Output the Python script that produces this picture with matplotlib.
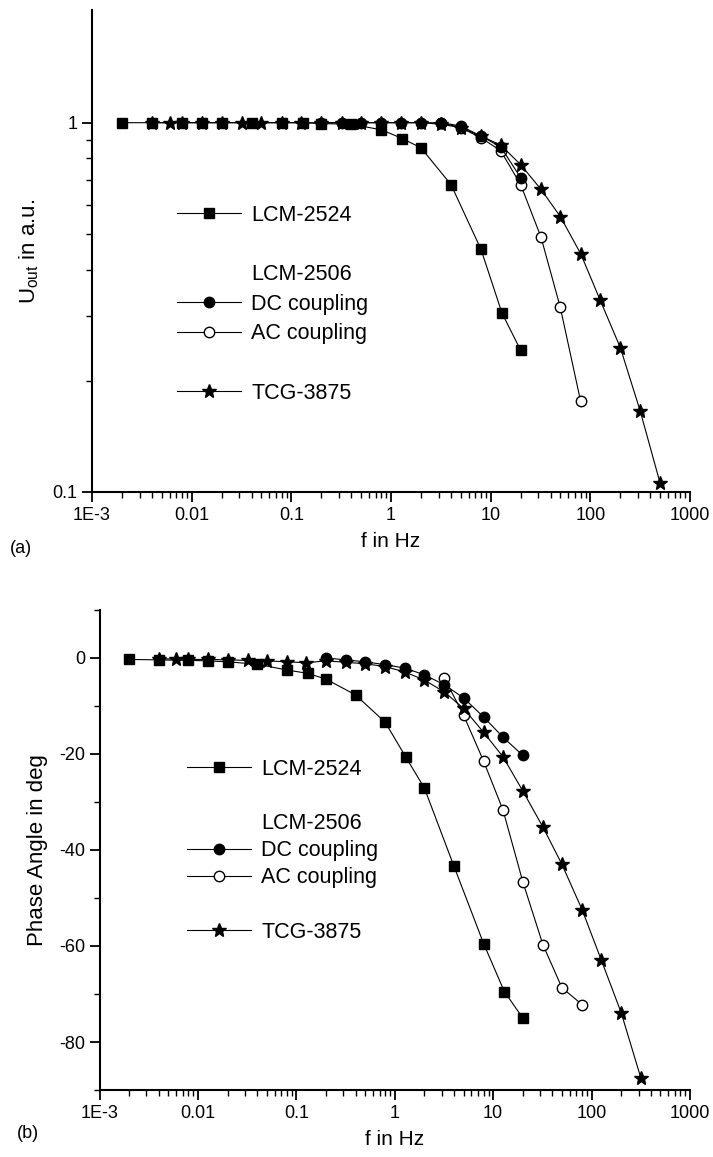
import matplotlib
matplotlib.use('Agg')
import matplotlib.pyplot as plt
from matplotlib.lines import Line2D
from matplotlib.ticker import LogLocator, FixedLocator, NullFormatter, MultipleLocator

plt.rcParams['font.family'] = ['Liberation Sans', 'DejaVu Sans']
plt.rcParams['mathtext.default'] = 'regular'
plt.rcParams['axes.unicode_minus'] = False

# LCM-2524 (squares)
f_sq = [0.002, 0.004, 0.008, 0.0126, 0.02, 0.04, 0.08, 0.13, 0.2, 0.4, 0.8, 1.3, 2, 4, 8, 13, 20]
u_sq = [1.0, 1.0, 1.0, 1.0, 1.0, 1.0, 1.0, 1.0, 0.995, 0.99, 0.957, 0.906, 0.855, 0.68, 0.454, 0.305, 0.242]
p_sq = [-0.3, -0.4, -0.5, -0.6, -0.8, -1.3, -2.5, -3.2, -4.4, -7.7, -13.4, -20.7, -27.1, -43.4, -59.5, -69.5, -75.0]

# LCM-2506 DC coupling (filled circles)
f_dc = [0.2, 0.32, 0.5, 0.8, 1.26, 2, 3.2, 5, 8, 12.6, 20]
u_dc = [1.0, 1.0, 1.0, 1.0, 1.0, 1.0, 1.0, 0.98, 0.92, 0.86, 0.71]
p_dc = [0.0, -0.4, -0.8, -1.4, -2.1, -3.5, -5.6, -8.3, -12.3, -16.5, -20.3]

# LCM-2506 AC coupling (open circles)
f_ac = [3.2, 5, 8, 12.6, 20, 32, 50, 80]
u_ac = [1.0, 0.97, 0.91, 0.84, 0.68, 0.49, 0.316, 0.176]
p_ac = [-4.2, -11.9, -21.5, -31.7, -46.6, -59.7, -68.7, -72.2]

# TCG-3875 (stars)
f_st = [0.004, 0.006, 0.008, 0.0126, 0.02, 0.032, 0.05, 0.08, 0.126, 0.2, 0.32, 0.5, 0.8, 1.26,
        2, 3.2, 5, 8, 12.6, 20, 32, 50, 80, 126, 200, 316, 500]
u_st = [1.0, 1.0, 1.0, 1.0, 1.0, 1.0, 1.0, 1.0, 1.0, 1.0, 1.0, 1.0, 1.0, 1.0,
        1.0, 0.99, 0.97, 0.92, 0.87, 0.77, 0.66, 0.557, 0.442, 0.33, 0.246, 0.166, 0.106]
f_st_p = f_st[:-1]
p_st = [-0.2, -0.2, -0.3, -0.3, -0.4, -0.5, -0.6, -0.8, -1.0, -0.6, -0.9, -1.2, -1.8, -2.9,
        -4.6, -7.1, -10.5, -15.5, -20.6, -27.7, -35.2, -43.0, -52.4, -63.0, -73.9, -87.4]

xticks = [1e-3, 0.01, 0.1, 1, 10, 100, 1000]
xticklabels = ['1E-3', '0.01', '0.1', '1', '10', '100', '1000']

lw = 0.8
sty_sq = dict(marker='s', ms=6.5, color='k', mfc='k', lw=lw)
sty_dc = dict(marker='o', ms=7.5, color='k', mfc='k', lw=lw)
sty_ac = dict(marker='o', ms=7.5, color='k', mfc='white', lw=lw)
sty_st = dict(marker='*', ms=10, color='k', mfc='k', lw=lw)

fig = plt.figure(figsize=(7.13, 11.57), dpi=100)
ax1 = fig.add_axes([0.129, 0.5748, 0.8387, 0.4166])
ax2 = fig.add_axes([0.1396, 0.0579, 0.8281, 0.4149])


def style_axes(ax):
    ax.set_xscale('log')
    ax.set_xlim(1e-3, 1000)
    ax.spines['top'].set_visible(False)
    ax.spines['right'].set_visible(False)
    ax.spines['left'].set_linewidth(1.5)
    ax.spines['bottom'].set_linewidth(1.5)
    ax.xaxis.set_major_locator(FixedLocator(xticks))
    ax.set_xticklabels(xticklabels)
    ax.xaxis.set_minor_locator(LogLocator(base=10, subs=range(2, 10), numticks=20))
    ax.xaxis.set_minor_formatter(NullFormatter())
    ax.tick_params(which='major', direction='out', length=7, width=1.3, labelsize=13)
    ax.tick_params(which='minor', direction='out', length=4, width=1.0)
    ax.set_xlabel('f in Hz', fontsize=15, labelpad=6)


# (a) amplitude
style_axes(ax1)
ax1.set_yscale('log')
ax1.set_ylim(0.1, 2.02)
ax1.yaxis.set_major_locator(FixedLocator([0.1, 1]))
ax1.set_yticklabels(['0.1', '1'])
ax1.yaxis.set_minor_locator(FixedLocator([0.2, 0.3, 0.4, 0.5, 0.6, 0.7, 0.8, 0.9]))
ax1.yaxis.set_minor_formatter(NullFormatter())
ax1.plot(f_ac, u_ac, **sty_ac)
ax1.plot(f_dc, u_dc, **sty_dc)
ax1.plot(f_sq, u_sq, **sty_sq)
ax1.plot(f_st, u_st, **sty_st)
ax1.set_ylabel('U$_{out}$ in a.u.', fontsize=16, labelpad=8)

# (b) phase
style_axes(ax2)
ax2.set_ylim(-90, 10)
ax2.yaxis.set_major_locator(FixedLocator([0, -20, -40, -60, -80]))
ax2.yaxis.set_minor_locator(MultipleLocator(10))
ax2.plot(f_ac, p_ac, **sty_ac)
ax2.plot(f_dc, p_dc, **sty_dc)
ax2.plot(f_sq, p_sq, **sty_sq)
ax2.plot(f_st_p, p_st, **sty_st)
ax2.set_ylabel('Phase Angle in deg', fontsize=16, labelpad=8)

blank = Line2D([], [], lw=0, marker=None)
handles = [Line2D([], [], **sty_sq), blank, blank,
           Line2D([], [], **sty_dc), Line2D([], [], **sty_ac), blank,
           Line2D([], [], **sty_st)]
labels = ['LCM-2524', ' ', 'LCM-2506', 'DC coupling', 'AC coupling', ' ', 'TCG-3875']

ax1.legend(handles, labels, loc='upper left', bbox_to_anchor=(0.124, 0.618), frameon=False,
           fontsize=15.5, handlelength=3.0, handletextpad=0.45, labelspacing=0.40, borderpad=0)
ax2.legend(handles, labels, loc='upper left', bbox_to_anchor=(0.1295, 0.713), frameon=False,
           fontsize=15.5, handlelength=3.0, handletextpad=0.45, labelspacing=0.29, borderpad=0)

fig.text(0.014, 1 - 548 / 1157, '(a)', fontsize=13, va='center')
fig.text(0.024, 1 - 1133 / 1157, '(b)', fontsize=13, va='center')

fig.savefig('out.png', dpi=100)
